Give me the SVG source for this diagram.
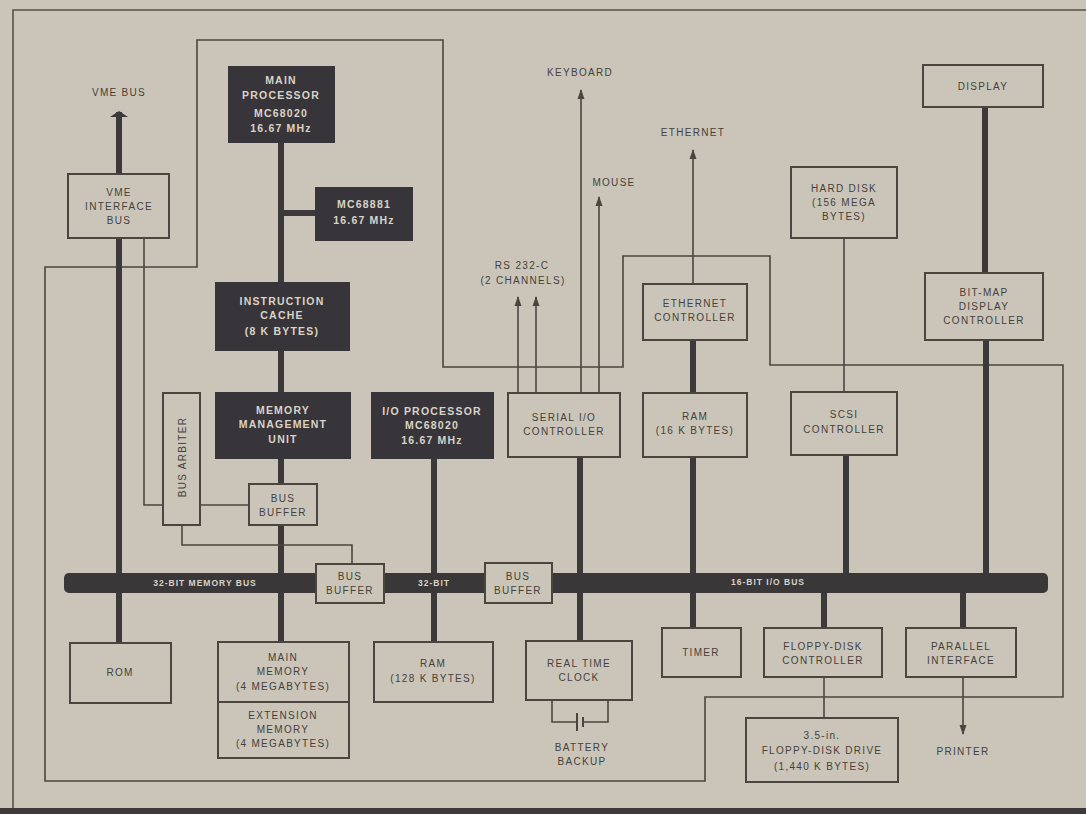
<svg xmlns="http://www.w3.org/2000/svg" width="1086" height="814" viewBox="0 0 1086 814">
<defs>
<style>
.bg{fill:#cac5b8}
.box{fill:#cac5b8;stroke:#4a463f;stroke-width:2}
.dbox{fill:#38353a;stroke:#38353a;stroke-width:2}
.t{font-family:"Liberation Sans",Arial,sans-serif;font-size:10px;letter-spacing:1.3px;fill:#45413b;text-anchor:middle;dominant-baseline:central}
.dt{font-family:"Liberation Sans",Arial,sans-serif;font-size:10.5px;font-weight:bold;letter-spacing:1.2px;fill:#d8d3c6;text-anchor:middle;dominant-baseline:central}
.bt{font-family:"Liberation Sans",Arial,sans-serif;font-size:8.5px;font-weight:bold;letter-spacing:1px;fill:#d8d3c6;text-anchor:middle;dominant-baseline:central}
.thin{fill:none;stroke:#4a463f;stroke-width:1.6}
.thick{fill:none;stroke:#3c393a;stroke-width:6}
.frame{fill:none;stroke:#55514a;stroke-width:1.6}
</style>
<marker id="ah" markerUnits="userSpaceOnUse" markerWidth="10" markerHeight="8" refX="9" refY="4" orient="auto" viewBox="0 0 10 8">
<path d="M0,0.5 L10,4 L0,7.5 Z" fill="#4a463f"/>
</marker>
<marker id="ahw" markerUnits="userSpaceOnUse" markerWidth="6" markerHeight="20" refX="5" refY="10" orient="auto" viewBox="0 0 6 20">
<path d="M0,1 L6,10 L0,19 Z" fill="#3c393a"/>
</marker>
</defs>
<rect class="bg" x="0" y="0" width="1086" height="814"/>
<!-- frame -->
<path class="frame" d="M13,814 V10 H1086"/>
<rect x="0" y="808" width="1086" height="6" fill="#3e3a3a"/>

<g id="connectors">
<!-- loop line -->
<path class="thin" d="M197,40 H443 V367 H623 V256 H770 V365 H1063 V697 H705 V781 H45 V267 H197 Z"/>
<!-- main processor trunk -->
<path class="thick" d="M281,142 V642"/>
<path class="thick" d="M281,213 H316"/>
<!-- VME -->
<path class="thick" d="M119,174 V112" marker-end="url(#ahw)"/>
<path class="thick" d="M119,238 V643"/>
<path class="thin" d="M144,238 V505 H163"/>
<path class="thin" d="M200,505 H249"/>
<path class="thin" d="M182,525 V545 H352 V564"/>
<!-- I/O processor -->
<path class="thick" d="M434,458 V642"/>
<!-- serial -->
<path class="thick" d="M580,457 V641"/>
<path class="thin" d="M581,393 V90" marker-end="url(#ah)"/>
<path class="thin" d="M599,393 V197" marker-end="url(#ah)"/>
<path class="thin" d="M518,393 V297" marker-end="url(#ah)"/>
<path class="thin" d="M536,393 V297" marker-end="url(#ah)"/>
<!-- ethernet / ram / timer -->
<path class="thin" d="M693,284 V150" marker-end="url(#ah)"/>
<path class="thick" d="M693,340 V393"/>
<path class="thick" d="M693,457 V628"/>
<!-- hard disk / scsi -->
<path class="thin" d="M844,238 V392"/>
<path class="thick" d="M846,455 V576"/>
<!-- display -->
<path class="thick" d="M985,107 V273"/>
<path class="thick" d="M986,340 V576"/>
<!-- floppy / parallel -->
<path class="thick" d="M824,590 V628"/>
<path class="thin" d="M824,677 V718"/>
<path class="thick" d="M963,590 V628"/>
<path class="thin" d="M963,677 V734" marker-end="url(#ah)"/>
<!-- battery -->
<path class="thin" d="M552,700 V722 H576"/>
<path class="thin" d="M583,722 H608 V700"/>
<path d="M577,713 V731" stroke="#4a463f" stroke-width="2"/>
<path d="M583,717 V727" stroke="#4a463f" stroke-width="2"/>
</g>

<g id="bus">
<rect x="64" y="573" width="984" height="20" rx="5" fill="#3a3738"/>
<text class="bt" x="205" y="583">32-BIT MEMORY BUS</text>
<text class="bt" x="434" y="583">32-BIT</text>
<text class="bt" x="768" y="582">16-BIT I/O BUS</text>
</g>

<g id="main-processor"><rect class="dbox" x="229" y="67" width="105" height="75"/>
<text class="dt" x="281" y="80">MAIN</text><text class="dt" x="281" y="95">PROCESSOR</text><text class="dt" x="281" y="113">MC68020</text><text class="dt" x="281" y="128">16.67 MHz</text></g>
<g id="mc68881"><rect class="dbox" x="316" y="188" width="96" height="52"/>
<text class="dt" x="364" y="204">MC68881</text><text class="dt" x="364" y="220">16.67 MHz</text></g>
<g id="instruction-cache"><rect class="dbox" x="216" y="283" width="133" height="67"/>
<text class="dt" x="282" y="301">INSTRUCTION</text><text class="dt" x="282" y="315">CACHE</text><text class="dt" x="282" y="331">(8 K BYTES)</text></g>
<g id="mmu"><rect class="dbox" x="216" y="393" width="134" height="65"/>
<text class="dt" x="283" y="410">MEMORY</text><text class="dt" x="283" y="424">MANAGEMENT</text><text class="dt" x="283" y="439">UNIT</text></g>
<g id="io-processor"><rect class="dbox" x="372" y="393" width="121" height="65"/>
<text class="dt" x="432" y="411">I/O PROCESSOR</text><text class="dt" x="432" y="425">MC68020</text><text class="dt" x="432" y="440">16.67 MHz</text></g>

<g id="vme-interface"><rect class="box" x="68" y="174" width="101" height="64"/>
<text class="t" x="119" y="192">VME</text><text class="t" x="119" y="206">INTERFACE</text><text class="t" x="119" y="220">BUS</text></g>
<text class="t" x="119" y="92">VME BUS</text>
<g id="bus-arbiter"><rect class="box" x="163" y="393" width="37" height="132"/>
<text class="t" transform="translate(182,457) rotate(-90)">BUS ARBITER</text></g>
<g id="bus-buffer-1"><rect class="box" x="249" y="484" width="68" height="41"/>
<text class="t" x="283" y="498">BUS</text><text class="t" x="283" y="512">BUFFER</text></g>
<g id="bus-buffer-2"><rect class="box" x="316" y="564" width="68" height="39"/>
<text class="t" x="350" y="576">BUS</text><text class="t" x="350" y="590">BUFFER</text></g>
<g id="bus-buffer-3"><rect class="box" x="485" y="563" width="67" height="40"/>
<text class="t" x="518" y="576">BUS</text><text class="t" x="518" y="590">BUFFER</text></g>
<g id="rom"><rect class="box" x="70" y="643" width="101" height="60"/>
<text class="t" x="120" y="672">ROM</text></g>
<g id="main-memory"><rect class="box" x="218" y="642" width="131" height="60"/>
<text class="t" x="283" y="657">MAIN</text><text class="t" x="283" y="671">MEMORY</text><text class="t" x="283" y="686">(4 MEGABYTES)</text></g>
<g id="extension-memory"><rect class="box" x="218" y="702" width="131" height="56"/>
<text class="t" x="283" y="715">EXTENSION</text><text class="t" x="283" y="729">MEMORY</text><text class="t" x="283" y="743">(4 MEGABYTES)</text></g>
<g id="ram-128k"><rect class="box" x="374" y="642" width="119" height="60"/>
<text class="t" x="433" y="663">RAM</text><text class="t" x="433" y="678">(128 K BYTES)</text></g>
<g id="real-time-clock"><rect class="box" x="526" y="641" width="106" height="59"/>
<text class="t" x="579" y="663">REAL TIME</text><text class="t" x="579" y="677">CLOCK</text></g>
<text class="t" x="582" y="747">BATTERY</text><text class="t" x="582" y="761">BACKUP</text>
<g id="timer"><rect class="box" x="662" y="628" width="79" height="49"/>
<text class="t" x="701" y="652">TIMER</text></g>
<g id="floppy-controller"><rect class="box" x="764" y="628" width="118" height="49"/>
<text class="t" x="823" y="646">FLOPPY-DISK</text><text class="t" x="823" y="660">CONTROLLER</text></g>
<g id="parallel-interface"><rect class="box" x="906" y="628" width="110" height="49"/>
<text class="t" x="961" y="646">PARALLEL</text><text class="t" x="961" y="660">INTERFACE</text></g>
<g id="floppy-drive"><rect class="box" x="746" y="718" width="152" height="64"/>
<text class="t" x="822" y="735">3.5-in.</text><text class="t" x="822" y="750">FLOPPY-DISK DRIVE</text><text class="t" x="822" y="766">(1,440 K BYTES)</text></g>
<text class="t" x="963" y="751">PRINTER</text>
<g id="serial-io"><rect class="box" x="508" y="393" width="112" height="64"/>
<text class="t" x="564" y="417">SERIAL I/O</text><text class="t" x="564" y="431">CONTROLLER</text></g>
<text class="t" x="522" y="265">RS 232-C</text><text class="t" x="523" y="280">(2 CHANNELS)</text>
<text class="t" x="580" y="72">KEYBOARD</text>
<text class="t" x="614" y="182">MOUSE</text>
<text class="t" x="693" y="132">ETHERNET</text>
<g id="ethernet-controller"><rect class="box" x="643" y="284" width="104" height="56"/>
<text class="t" x="695" y="303">ETHERNET</text><text class="t" x="695" y="317">CONTROLLER</text></g>
<g id="ram-16k"><rect class="box" x="643" y="393" width="104" height="64"/>
<text class="t" x="695" y="416">RAM</text><text class="t" x="695" y="430">(16 K BYTES)</text></g>
<g id="hard-disk"><rect class="box" x="791" y="167" width="106" height="71"/>
<text class="t" x="844" y="188">HARD DISK</text><text class="t" x="844" y="202">(156 MEGA</text><text class="t" x="844" y="216">BYTES)</text></g>
<g id="scsi-controller"><rect class="box" x="791" y="392" width="106" height="63"/>
<text class="t" x="844" y="414">SCSI</text><text class="t" x="844" y="429">CONTROLLER</text></g>
<g id="display"><rect class="box" x="923" y="65" width="120" height="42"/>
<text class="t" x="983" y="86">DISPLAY</text></g>
<g id="bitmap-controller"><rect class="box" x="925" y="273" width="118" height="67"/>
<text class="t" x="984" y="292">BIT-MAP</text><text class="t" x="984" y="306">DISPLAY</text><text class="t" x="984" y="320">CONTROLLER</text></g>
</svg>
